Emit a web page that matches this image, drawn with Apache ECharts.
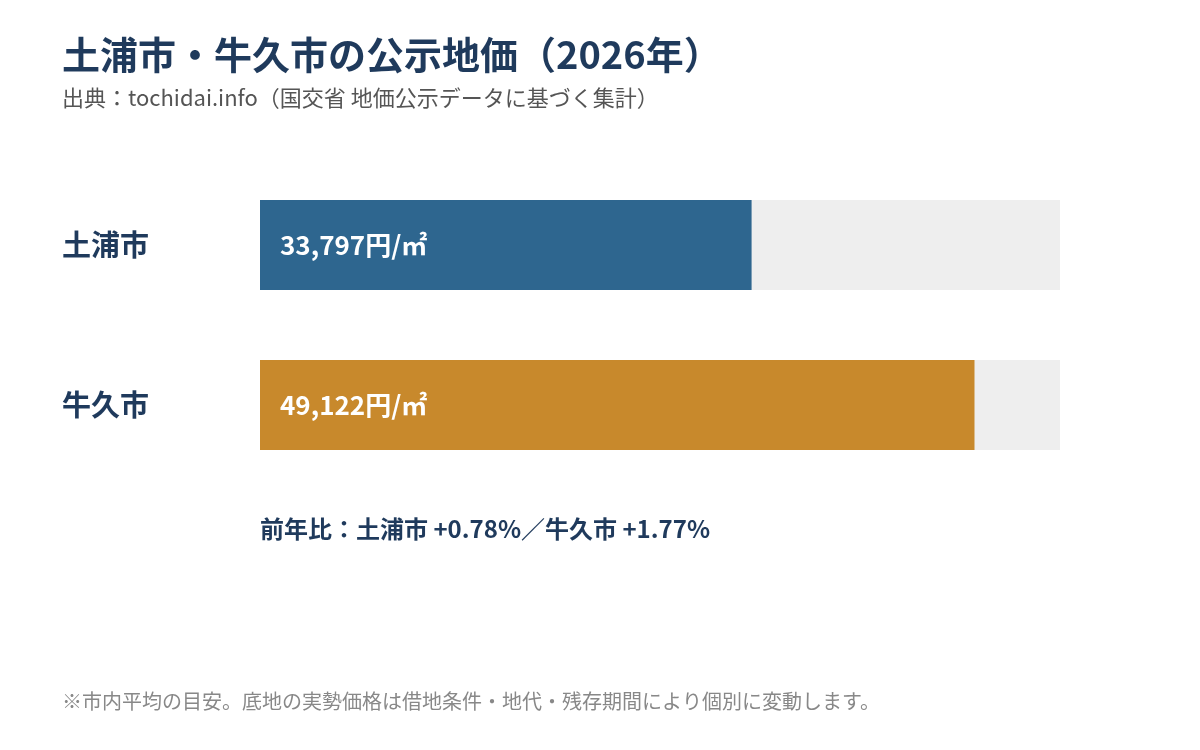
<!DOCTYPE html>
<html>
  <head>
    <meta charset="utf-8" />
    <script src="https://cdn.jsdelivr.net/npm/echarts@6.0.0/dist/echarts.min.js"></script>
    <style>
      html, body { margin: 0; padding: 0; background: #fff; }
    </style>
  </head>
  <body>
    <div id="main" style="width: 1200px; height: 750px"></div>

    <script type="text/javascript">
      // data
      var cities = ["土浦市", "牛久市"];
      var prices = [33797, 49122];
      var barColors = ["#2e668f", "#c8892c"];
      var yoy = ["+0.78%", "+1.77%"];

      var FONT = "'Noto Sans CJK JP', 'Noto Sans', sans-serif";
      var NAVY = "#1f3a5c";

      var myChart = echarts.init(document.getElementById("main"));

      var note = "前年比：" + cities[0] + " " + yoy[0] + "／" + cities[1] + " " + yoy[1];

      let option = {
        animation: false,
        textStyle: { fontFamily: FONT },
        title: {
          text: "土浦市・牛久市の公示地価（2026年）",
          subtext: "出典：tochidai.info（国交省 地価公示データに基づく集計）",
          left: 62,
          top: 36,
          padding: 0,
          itemGap: 13,
          textStyle: { fontFamily: FONT, fontSize: 38, fontWeight: "bold", color: NAVY },
          subtextStyle: { fontFamily: FONT, fontSize: 22, color: "#555555" },
        },
        grid: { left: 260, right: 140, top: 165, height: 320 },
        xAxis: {
          type: "value",
          min: 0,
          max: 55000,
          show: false,
        },
        yAxis: {
          type: "category",
          data: cities,
          inverse: true,
          axisLine: { show: false },
          axisTick: { show: false },
          axisLabel: {
            align: "left",
            margin: 198,
            fontFamily: FONT,
            fontSize: 29,
            fontWeight: "bold",
            color: NAVY,
          },
        },
        series: [
          {
            type: "bar",
            barWidth: 90,
            showBackground: true,
            backgroundStyle: { color: "#eeeeee" },
            data: prices.map(function (v, i) {
              return { value: v, itemStyle: { color: barColors[i] } };
            }),
            label: {
              show: true,
              position: "insideLeft",
              distance: 20,
              fontFamily: FONT,
              fontSize: 26,
              fontWeight: "bold",
              color: "#ffffff",
              formatter: function (p) {
                return p.value.toLocaleString("en-US") + "円/㎡";
              },
            },
          },
        ],
        graphic: [
          {
            type: "text",
            left: 260,
            top: 517,
            style: { text: note, fontFamily: FONT, fontSize: 24, fontWeight: "bold", fill: NAVY },
          },
          {
            type: "text",
            left: 62,
            top: 691,
            style: {
              text: "※市内平均の目安。底地の実勢価格は借地条件・地代・残存期間により個別に変動します。",
              fontFamily: FONT,
              fontSize: 20,
              fill: "#888888",
            },
          },
        ],
      };

      myChart.setOption(option);
    </script>
  </body>
</html>
